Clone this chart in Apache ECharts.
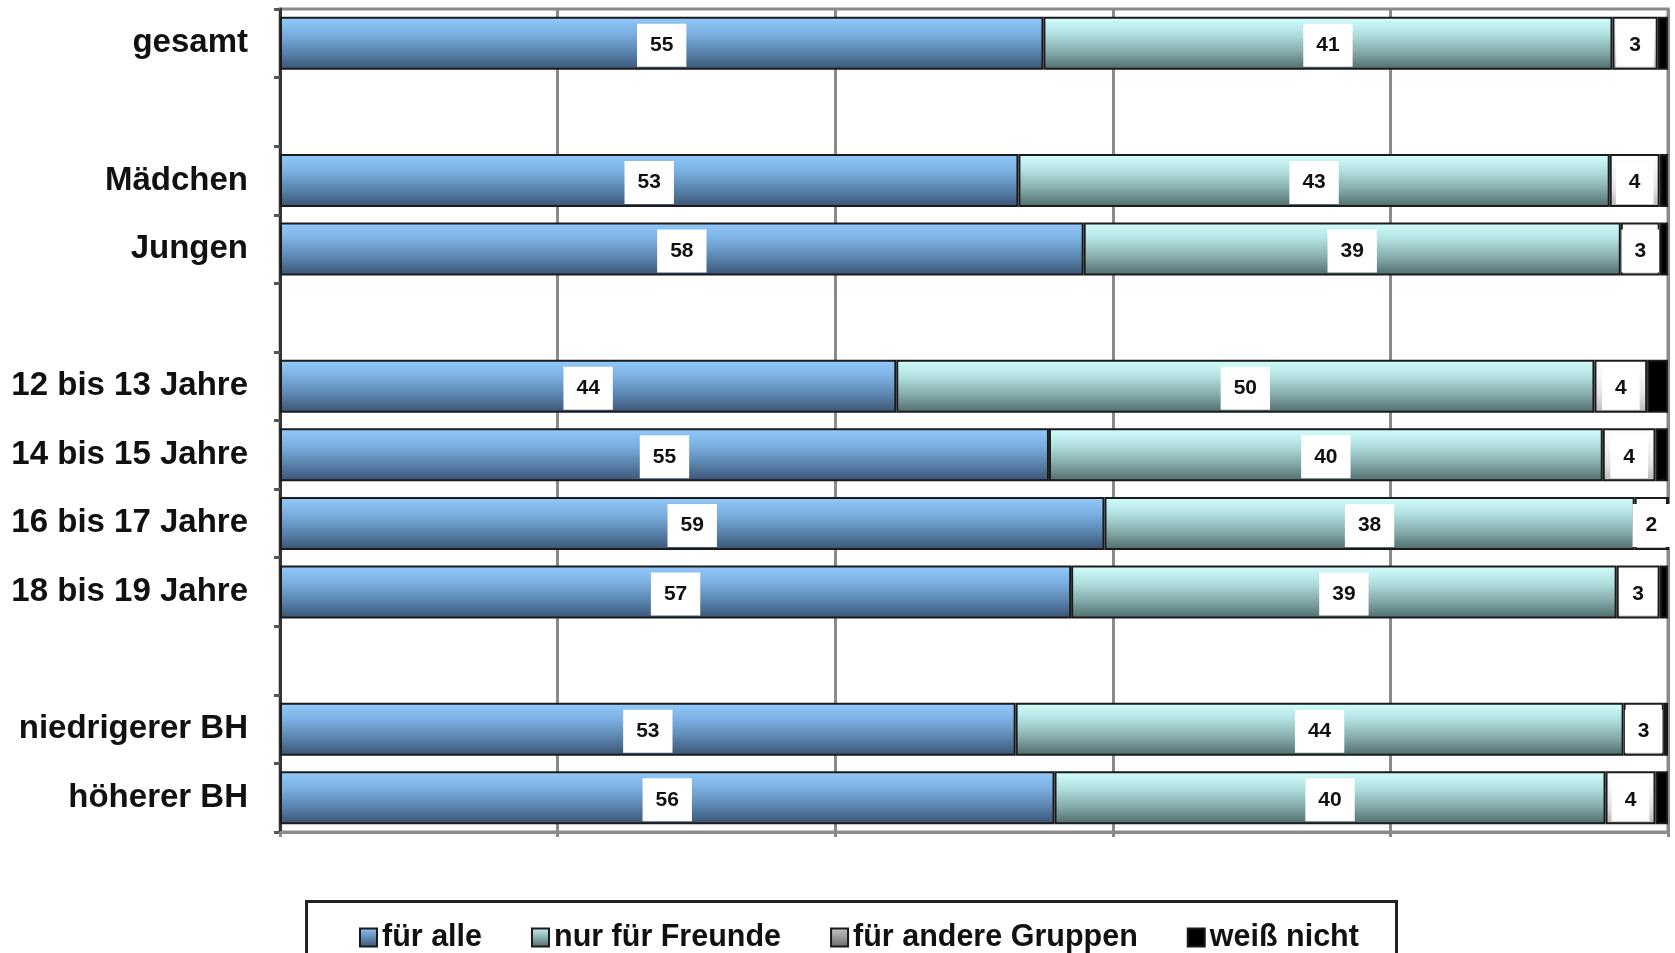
<!DOCTYPE html>
<html>
<head>
<meta charset="utf-8">
<script src="https://cdn.jsdelivr.net/npm/echarts@6/dist/echarts.min.js"></script>
<style>
html,body{margin:0;padding:0;background:#fff;}
#c{width:1675px;height:953px;}
</style>
</head>
<body>
<div id="c"></div>
<script>
var categories = ['gesamt', ' ', 'Mädchen', 'Jungen', '  ', '12 bis 13 Jahre', '14 bis 15 Jahre', '16 bis 17 Jahre', '18 bis 19 Jahre', '   ', 'niedrigerer BH', 'höherer BH'];
var seriesNames = ['für alle', 'nur für Freunde', 'für andere Gruppen', 'weiß nicht'];
var fuerAlle      = [55.0, null, 53.2, 57.9, null, 44.4, 55.4, 59.4, 57.0, null, 53.0, 55.8];
var nurFreunde    = [41.0, null, 42.6, 38.7, null, 50.3, 39.9, 38.2, 39.3, null, 43.8, 39.7];
var andereGruppen = [3.26, null, 3.6, 2.8, null, 3.8, 3.8, 2.4, 3.1, null, 2.9, 3.6];
var weissNicht    = [0.74, null, 0.6, 0.6, null, 1.5, 0.9, 0, 0.6, null, 0.3, 0.9];

function grad(stops) {
  return new echarts.graphic.LinearGradient(0, 0, 0, 1, stops.map(function (c, i) {
    return { offset: i / (stops.length - 1), color: c };
  }));
}
var fills = [
  grad(['#94cbfc', '#7aaee0', '#5a84ad', '#3a5373']),
  grad(['#d4ffff', '#b0dede', '#85aaaa', '#4e6b6b']),
  grad(['#ffffff', '#f4f4f4', '#e2e2e2', '#b8b8b8']),
  '#000000'
];
var legendFills = [
  grad(['#8fc4f5', '#3a5373']),
  grad(['#c8f4f4', '#4e6b6b']),
  grad(['#c8c8c8', '#6a6a6a']),
  '#000000'
];
var labelStyle = {
  show: true,
  position: 'inside',
  offset: [0, 2],
  formatter: function (p) { return p.value == null ? '' : String(Math.round(p.value)); },
  backgroundColor: '#ffffff',
  padding: [11, 13],
  color: '#111',
  fontSize: 21,
  fontWeight: 'bold',
  fontFamily: 'Liberation Sans, Arial, sans-serif'
};
var dataSets = [fuerAlle, nurFreunde, andereGruppen, weissNicht];
var series = dataSets.map(function (d, i) {
  return {
    name: seriesNames[i],
    type: 'bar',
    stack: 'total',
    barWidth: 53,
    data: d,
    itemStyle: { color: fills[i], borderColor: '#1b1b1b', borderWidth: 2 },
    label: i < 3 ? labelStyle : { show: false },
    emphasis: { disabled: true },
    z: 3
  };
});

var chart = echarts.init(document.getElementById('c'), null, { renderer: 'canvas' });
chart.setOption({
  animation: false,
  backgroundColor: '#ffffff',
  grid: { left: 280, right: 7, top: 9, bottom: 121, show: true, borderColor: '#8a8a8a', borderWidth: 3, containLabel: false },
  xAxis: {
    type: 'value', min: 0, max: 100, interval: 20,
    axisLabel: { show: false },
    axisLine: { show: true, lineStyle: { color: '#8a8a8a', width: 3 } },
    axisTick: { show: true, length: 5, lineStyle: { color: '#8a8a8a', width: 3 } },
    splitLine: { show: true, lineStyle: { color: '#8a8a8a', width: 3 } }
  },
  yAxis: {
    type: 'category', data: categories, inverse: true,
    axisLine: { show: true, lineStyle: { color: '#333', width: 3 } },
    axisTick: { show: true, length: 6, lineStyle: { color: '#555', width: 3 } },
    axisLabel: { margin: 32, fontSize: 33, fontWeight: 'bold', color: '#111', padding: [14, 0, 0, 0], fontFamily: 'Liberation Sans, Arial, sans-serif' }
  },
  legend: {
    data: seriesNames.map(function (n, i) { return { name: n, itemStyle: { color: legendFills[i], borderColor: '#1b1b1b', borderWidth: 2 } }; }),
    left: 359, top: 922,
    itemWidth: 17, itemHeight: 18, itemGap: 49,
    icon: 'rect',
    padding: 0,
    textStyle: { fontSize: 30.5, fontWeight: 'bold', color: '#111', fontFamily: 'Liberation Sans, Arial, sans-serif' },
    selectedMode: false
  },
  graphic: [{
    type: 'rect', left: 305, top: 900, silent: true, z: -1,
    shape: { width: 1090, height: 80 },
    style: { fill: '#fff', stroke: '#222', lineWidth: 3 }
  }],
  series: series
});
</script>
</body>
</html>
